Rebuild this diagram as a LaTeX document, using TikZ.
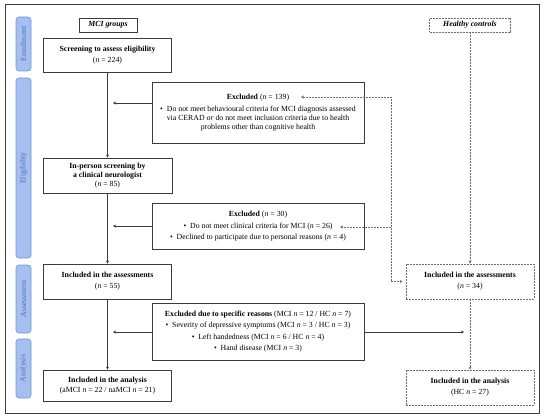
\documentclass[tikz,border=0pt]{standalone}
\usepackage{fontspec}
\setmainfont{Liberation Serif}
\usetikzlibrary{arrows.meta}
\definecolor{frm}{RGB}{60,60,60}
\definecolor{dsh}{RGB}{110,110,110}
\definecolor{phfill}{RGB}{165,192,240}
\definecolor{phdraw}{RGB}{115,145,215}
\definecolor{phtext}{RGB}{80,108,175}
\tikzset{
  box/.style={draw=frm, line width=0.9pt, align=center, inner sep=0pt, fill=white},
  dbox/.style={draw=dsh, line width=0.8pt, dash pattern=on 2pt off 1pt, align=center, inner sep=0pt, fill=white},
  phase/.style={draw=phdraw, fill=phfill, rounded corners=3pt, line width=0.6pt, minimum width=15pt, text=phtext, inner sep=0pt, font=\fontsize{7.8}{9}\selectfont},
  arr/.style={draw=frm, line width=0.9pt, -{Stealth[length=3pt,width=3pt]}},
  darr/.style={draw=dsh, line width=0.7pt, dash pattern=on 2pt off 1pt, -{Stealth[length=3pt,width=3pt]}},
  darrb/.style={draw=dsh, line width=0.7pt, dash pattern=on 2pt off 1pt, {Stealth[length=3pt,width=3pt]}-{Stealth[length=3pt,width=3pt]}}
}
\newcommand{\nn}{\textit{n}}
\begin{document}
\begin{tikzpicture}[x=1pt,y=-1pt,font=\fontsize{7.8}{9.2}\selectfont]
\useasboundingbox (0,0) rectangle (550,420);
\node[draw=frm, line width=1pt, minimum width=534pt, minimum height=408pt, inner sep=0pt] (frame) at (272,209) {};

% phases
\node[phase, minimum height=54pt] (p1) at (23.5,44) {\rotatebox{90}{Enrollment}};
\node[phase, minimum height=180pt] (p2) at (23.5,168) {\rotatebox{90}{Eligibility}};
\node[phase, minimum height=68pt] (p3) at (23.5,299) {\rotatebox{90}{Assessment}};
\node[phase, minimum height=59pt] (p4) at (23.5,368.5) {\rotatebox{90}{Analysis}};

% MCI column
\node[box, line width=0.8pt, minimum width=58pt, minimum height=14pt] (mci) at (108,25) {\textbf{\textit{MCI groups}}};
\node[box, minimum width=128pt, minimum height=34pt] (scr) at (107.5,55) {\textbf{Screening to assess eligibility}\\[2pt](\nn{} = 224)};
\node[box, minimum width=129pt, minimum height=35pt] (inp) at (107.5,175.5) {\textbf{In-person screening by}\\\textbf{a clinical neurologist}\\(\nn{} = 85)};
\node[box, minimum width=128pt, minimum height=35pt] (inc) at (107.5,281.5) {\textbf{Included in the assessments}\\[2pt](\nn{} = 55)};
\node[box, minimum width=128pt, minimum height=31pt] (ana) at (107.5,385.5) {\textbf{Included in the analysis}\\[1pt](aMCI \nn{} = 22 / naMCI \nn{} = 21)};

% excluded boxes
\node[box, minimum width=212pt, minimum height=61pt] (ex1) at (258,112.5) {\textbf{Excluded} (\nn{} = 139)\\[3pt]
  \textbullet\enspace Do not meet behavioural criteria for MCI diagnosis assessed\\
  via CERAD \textit{or} do not meet inclusion criteria due to health\\
  problems other than cognitive health};
\node[box, minimum width=212pt, minimum height=46pt] (ex2) at (258,226) {\textbf{Excluded} (\nn{} = 30)\\[3pt]
  \textbullet\enspace Do not meet clinical criteria for MCI (\nn{} = 26)\\[2pt]
  \textbullet\enspace Declined to participate due to personal reasons (\nn{} = 4)};
\node[box, minimum width=212pt, minimum height=57pt] (ex3) at (258,331.5) {\textbf{Excluded due to specific reasons} (MCI \nn{} = 12 / HC \nn{} = 7)\\[2pt]
  \textbullet\enspace Severity of depressive symptoms (MCI \nn{} = 3 / HC \nn{} = 3)\\[2pt]
  \textbullet\enspace Left handedness (MCI \nn{} = 6 / HC \nn{} = 4)\\[2pt]
  \textbullet\enspace Hand disease (MCI \nn{} = 3)};

% HC column
\node[dbox, minimum width=81pt, minimum height=14pt] (hc) at (470,25) {\textbf{\textit{Healthy controls}}};
\node[dbox, minimum width=128pt, minimum height=35pt] (hcinc) at (470,281.5) {\textbf{Included in the assessments}\\[2pt](\nn{} = 34)};
\node[dbox, minimum width=128pt, minimum height=35pt] (hcana) at (470,387.5) {\textbf{Included in the analysis}\\[2pt](HC \nn{} = 27)};

% main flow
\draw[arr] (scr.south) -- (inp.north);
\draw[arr] (inp.south) -- (inc.north);
\draw[arr] (inc.south) -- (ana.north);
\coordinate (t1) at (113,103);
\coordinate (t2) at (113,226);
\coordinate (t3) at (113,332);
\coordinate (t3r) at (464,332);
\draw[arr] (ex1.west |- t1) -- (t1);
\draw[arr] (ex2.west |- t2) -- (t2);
\draw[arr] (ex3.west |- t3) -- (t3);
\draw[arr] (ex3.east |- t3r) -- (t3r);

% HC flow
\draw[darr] (hc.south) -- (hcinc.north);
\draw[darr] (hcinc.south) -- (hcana.north);

% dashed connectors
\coordinate (d1) at (301,97);
\coordinate (d2) at (391,97);
\coordinate (d3) at (391,281.5);
\coordinate (d4) at (391,227);
\coordinate (d5) at (340,227);
\draw[darrb, shorten >=3pt] (d1) -- (d2) -- (d3) -- (hcinc.west);
\draw[darr] (d4) -- (d5);
\end{tikzpicture}
\end{document}
